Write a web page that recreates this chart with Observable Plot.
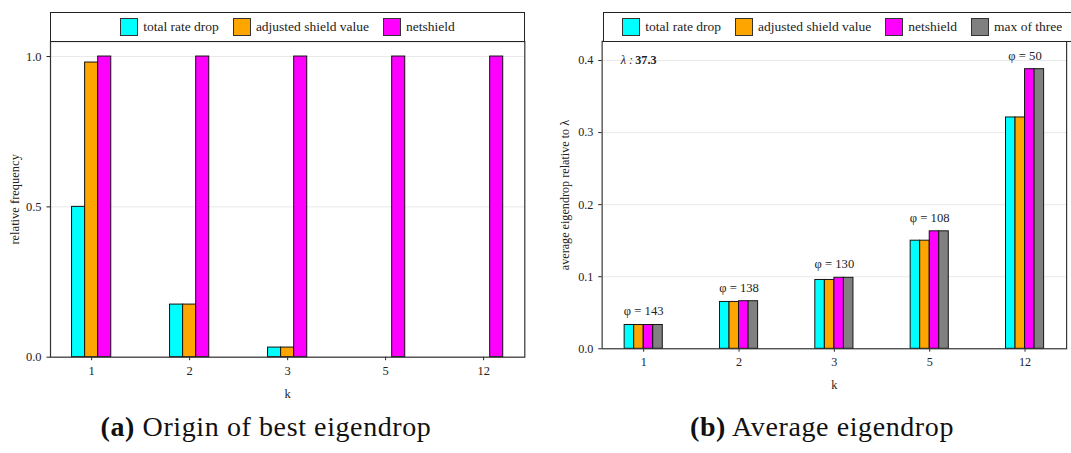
<!DOCTYPE html>
<html><head><meta charset="utf-8">
<script src="https://cdn.jsdelivr.net/npm/d3@7"></script>
<script src="https://cdn.jsdelivr.net/npm/@observablehq/plot@0.6"></script>
<style>
html,body{margin:0;padding:0;background:#fff;}
body{width:1071px;height:453px;overflow:hidden;position:relative;font-family:"Liberation Serif","DejaVu Serif",serif;color:#222;}
.legend{position:absolute;box-sizing:border-box;border:1px solid #222;display:flex;align-items:center;justify-content:center;gap:14px;font-size:13.5px;white-space:nowrap;background:#fff;overflow:visible;}
.item{display:flex;align-items:center;}
.sw{width:18px;height:18px;box-sizing:border-box;border:1px solid #333;margin-right:5px;}
.cap{position:absolute;font-size:28px;letter-spacing:0.6px;line-height:30px;transform:translateX(-50%);white-space:nowrap;color:#111;}
.plotwrap{position:absolute;}
</style></head><body>
<script>
// ---------- data ----------
const ks = ["1", "2", "3", "5", "12"];
const seriesNames = ["total rate drop", "adjusted shield value", "netshield", "max of three"];
const seriesColors = ["#00ffff", "#ffa500", "#ff00ff", "#808080"];

// (a) relative frequency of origin of best eigendrop
const freqTotalRateDrop = [0.5, 0.175, 0.032, 0, 0];
const freqAdjustedShield = [0.98, 0.175, 0.032, 0, 0];
const freqNetshield = [1, 1, 1, 1, 1];

// (b) average eigendrop relative to lambda
const avgTotalRateDrop = [0.033, 0.065, 0.0955, 0.15, 0.321];
const avgAdjustedShield = [0.033, 0.065, 0.0955, 0.15, 0.321];
const avgNetshield = [0.033, 0.066, 0.0985, 0.163, 0.388];
const avgMaxOfThree = [0.033, 0.066, 0.0985, 0.163, 0.388];
const phiValues = [143, 138, 130, 108, 50];
const lambdaValue = 37.3;

const leftTicks = [0, 0.5, 1.0];
const rightTicks = [0, 0.1, 0.2, 0.3, 0.4];

// ---------- helpers ----------
function toRows(seriesArrays) {
  const n = seriesArrays.length;
  const rows = [];
  seriesArrays.forEach((arr, s) => arr.forEach((v, i) => rows.push({i, s, n, series: seriesNames[s], value: v})));
  return rows;
}
const groupWidth = 0.4;
const x1 = d => d.i + (d.s - d.n / 2) * (groupWidth / d.n);
const x2 = d => d.i + (d.s + 1 - d.n / 2) * (groupWidth / d.n);

function makeLegend(names, left, top, width) {
  const lg = document.createElement("div");
  lg.className = "legend";
  Object.assign(lg.style, {left: left + "px", top: top + "px", width: width + "px", height: "30px"});
  names.forEach(name => {
    const it = document.createElement("div");
    it.className = "item";
    const sw = document.createElement("div");
    sw.className = "sw";
    sw.style.background = seriesColors[seriesNames.indexOf(name)];
    const tx = document.createElement("span");
    tx.textContent = name;
    it.append(sw, tx);
    lg.append(it);
  });
  document.body.append(lg);
}

function makeChart({rows, yDomain, yTicks, yLabel, xDomain, plotWidth, marginLeft, labelOffsetY, extra}) {
  const mt = 5, plotH = 315.7, mb = 50;
  return Plot.plot({
    width: marginLeft + plotWidth + 5,
    height: mt + plotH + mb,
    marginTop: mt, marginRight: 5, marginBottom: mb, marginLeft,
    style: {fontFamily: "Liberation Serif, DejaVu Serif, serif", fontSize: "12.5px", background: "transparent", color: "#222", overflow: "visible"},
    x: {domain: xDomain, ticks: d3.range(ks.length), tickFormat: i => ks[i], tickSize: 3.5, label: "k", labelAnchor: "center", labelOffset: 41, labelArrow: "none"},
    y: {domain: yDomain, ticks: yTicks, tickFormat: d3.format(".1f"), tickSize: 3.5, grid: true, label: yLabel, labelAnchor: "center", labelOffset: labelOffsetY, labelArrow: "none"},
    color: {domain: seriesNames, range: seriesColors},
    marks: [
      Plot.rectY(rows, {x1, x2, y: "value", fill: "series", stroke: "#111", strokeWidth: 1}),
      Plot.frame({stroke: "#333", strokeWidth: 1.2}),
      ...(extra || [])
    ]
  });
}

// ---------- left chart ----------
const leftRows = toRows([freqTotalRateDrop, freqAdjustedShield, freqNetshield]);
const leftWrap = document.createElement("div");
leftWrap.className = "plotwrap";
Object.assign(leftWrap.style, {left: "0px", top: "36px"});
leftWrap.append(makeChart({
  rows: leftRows,
  yDomain: [0, 1.05], yTicks: leftTicks, yLabel: "relative frequency",
  xDomain: [-0.42, 4.42], plotWidth: 474.3, marginLeft: 50, labelOffsetY: 40
}));
document.body.append(leftWrap);
makeLegend(seriesNames.slice(0, 3), 50, 12, 475);

// ---------- right chart ----------
const rightRows = toRows([avgTotalRateDrop, avgAdjustedShield, avgNetshield, avgMaxOfThree]);
const phiRows = ks.map((k, i) => ({i, top: Math.max(avgTotalRateDrop[i], avgAdjustedShield[i], avgNetshield[i], avgMaxOfThree[i]), phi: phiValues[i]}));
const rightWrap = document.createElement("div");
rightWrap.className = "plotwrap";
Object.assign(rightWrap.style, {left: "540px", top: "36px"});
rightWrap.append(makeChart({
  rows: rightRows,
  yDomain: [0, 0.4266], yTicks: rightTicks, yLabel: "average eigendrop relative to λ",
  xDomain: [-0.436, 4.436], plotWidth: 477, marginLeft: 63.3, labelOffsetY: 43,
  extra: [
    Plot.text(phiRows, {x: "i", y: "top", text: d => `φ = ${d.phi}`, dy: -14, fontSize: 13}),
    Plot.text([lambdaValue], {frameAnchor: "top-left", text: () => "λ :", dx: 19, dy: 14, textAnchor: "start", fontStyle: "italic", fontSize: 12.5}),
    Plot.text([lambdaValue], {frameAnchor: "top-left", text: d => d.toFixed(1), dx: 34, dy: 14, textAnchor: "start", fontWeight: "bold", fontSize: 12.5})
  ]
}));
document.body.append(rightWrap);
makeLegend(seriesNames, 603.3, 12, 478);

// ---------- captions ----------
function caption(letter, text, cx) {
  const c = document.createElement("div");
  c.className = "cap";
  c.style.left = cx + "px";
  c.style.top = "412px";
  c.innerHTML = `<b>(${letter})</b> ${text}`;
  document.body.append(c);
}
caption("a", "Origin of best eigendrop", 266);
caption("b", "Average eigendrop", 822);
</script>
</body></html>
